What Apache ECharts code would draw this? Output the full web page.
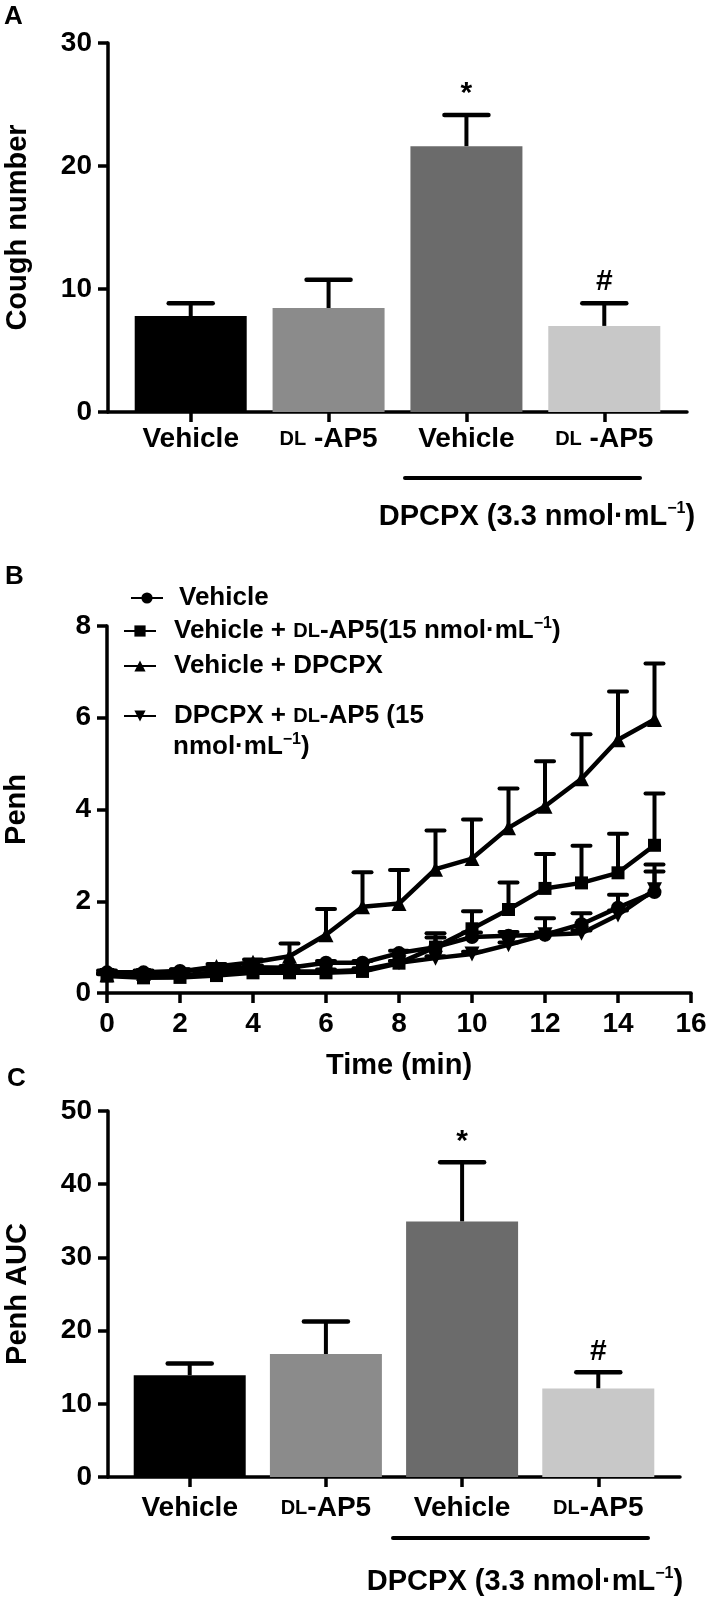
<!DOCTYPE html>
<html>
<head>
<meta charset="utf-8">
<script src="https://cdn.jsdelivr.net/npm/echarts@6/dist/echarts.min.js"></script>
<style>
  html, body { margin: 0; padding: 0; background: #fff; }
  #chart { width: 709px; height: 1599px; }
</style>
</head>
<body>
<div id="chart"></div>
<script>
// panel A / C categories
const catsA = ["Vehicle", "DL -AP5", "Vehicle", "DL -AP5"];
const catsC = ["Vehicle", "DL-AP5", "Vehicle", "DL-AP5"];
const groupLabel = "DPCPX (3.3 nmol·mL−1)";

// A: cough number
const coughMean = [7.8, 8.45, 21.6, 7.0];
const coughSem = [1.05, 2.3, 2.55, 1.85];
const coughMarks = ["", "", "*", "#"];

// C: Penh AUC
const aucMean = [13.9, 16.8, 34.9, 12.1];
const aucSem = [1.6, 4.45, 8.1, 2.2];
const aucMarks = ["", "", "*", "#"];

// B: Penh over time
const timeMin = [0, 1, 2, 3, 4, 5, 6, 7, 8, 9, 10, 11, 12, 13, 14, 15];
const vehMean = [0.45, 0.45, 0.48, 0.53, 0.56, 0.55, 0.66, 0.66, 0.87, 1.0, 1.22, 1.25, 1.27, 1.5, 1.86, 2.2];
const vehSem = [0.04, 0.04, 0.04, 0.04, 0.04, 0.04, 0.04, 0.04, 0.05, 0.21, 0.1, 0.08, 0.36, 0.24, 0.28, 0.45];
const apMean = [0.37, 0.33, 0.34, 0.38, 0.44, 0.44, 0.44, 0.47, 0.65, 1.0, 1.4, 1.82, 2.28, 2.4, 2.62, 3.22];
const apSem = [0.04, 0.04, 0.04, 0.04, 0.04, 0.04, 0.04, 0.04, 0.05, 0.3, 0.38, 0.59, 0.75, 0.81, 0.85, 1.13];
const dpMean = [0.4, 0.43, 0.47, 0.58, 0.67, 0.8, 1.27, 1.88, 1.95, 2.7, 2.93, 3.6, 4.07, 4.67, 5.52, 5.96];
const dpSem = [0.04, 0.04, 0.04, 0.05, 0.06, 0.28, 0.56, 0.75, 0.73, 0.84, 0.85, 0.86, 0.98, 0.97, 1.05, 1.22];
const dpApMean = [0.38, 0.38, 0.38, 0.45, 0.5, 0.47, 0.47, 0.5, 0.66, 0.76, 0.85, 1.05, 1.27, 1.3, 1.7, 2.25];
const dpApSem = [0.04, 0.04, 0.04, 0.04, 0.04, 0.04, 0.04, 0.04, 0.04, 0.04, 0.05, 0.05, 0.05, 0.06, 0.1, 0.55];
const seriesNames = ["Vehicle", "Vehicle + DL-AP5", "Vehicle + DPCPX", "DPCPX + DL-AP5"];
const legendTexts = ["Vehicle", "Vehicle + DL-AP5(15 nmol·mL−1)", "Vehicle + DPCPX", "DPCPX + DL-AP5 (15"];

const FONT = '"Liberation Sans", Arial, Helvetica, sans-serif';
const barColors = ["#000000", "#8b8b8b", "#6b6b6b", "#c8c8c8"];

const rich = {
  sc: {fontFamily: FONT, fontWeight: "bold", fontSize: 20, color: "#000"},
  sup: {fontFamily: FONT, fontWeight: "bold", fontSize: 16, color: "#000", verticalAlign: "top", lineHeight: 14},
};
// DL in small caps, -1 raised
function fmt(s) {
  return s.replace("DL", "{sc|DL}").replace("−1", "{sup|−1}");
}

const bold = size => ({fontFamily: FONT, fontWeight: "bold", fontSize: size, color: "#000"});
const axisLine = {show: true, onZero: false, lineStyle: {color: "#000", width: 3.5}};
const axisTick = {show: true, length: 10, lineStyle: {color: "#000", width: 3.5}};

function catAxis(gridIndex, labels, margin) {
  return {
    type: "value", gridIndex, min: -0.6, max: 3.6,
    axisLine, splitLine: {show: false},
    axisTick: Object.assign({customValues: [0, 1, 2, 3]}, axisTick),
    axisLabel: Object.assign({
      customValues: [0, 1, 2, 3], margin, rich,
      formatter: v => fmt(labels[Math.round(v)] || ""),
    }, bold(28)),
  };
}
function valAxis(gridIndex, max, interval, name) {
  return {
    type: "value", gridIndex, min: 0, max, interval,
    name, nameLocation: "middle", nameGap: 76, nameRotate: 90,
    nameTextStyle: bold(29),
    axisLine, axisTick, splitLine: {show: false},
    axisLabel: Object.assign({margin: 16}, bold(28)),
  };
}

function barSeries(axisIdx, means) {
  return {
    type: "bar", xAxisIndex: axisIdx, yAxisIndex: axisIdx, barWidth: 112, z: 2,
    data: means.map((m, i) => ({value: [i, m], itemStyle: {color: barColors[i]}})),
  };
}
function barErrSeries(axisIdx, means, sems, marks) {
  return {
    type: "custom", xAxisIndex: axisIdx, yAxisIndex: axisIdx, z: 1,
    data: means.map((m, i) => [i, m, sems[i]]),
    renderItem: (params, api) => {
      const x = api.value(0), m = api.value(1), e = api.value(2);
      const p0 = api.coord([x, m]);
      const p1 = api.coord([x, m + e]);
      const mark = marks[params.dataIndex];
      return {
        type: "group",
        children: [
          {type: "line", shape: {x1: p0[0], y1: p0[1], x2: p1[0], y2: p1[1]}, style: {stroke: "#000", lineWidth: 4}},
          {type: "line", shape: {x1: p1[0] - 22, y1: p1[1], x2: p1[0] + 22, y2: p1[1]}, style: {stroke: "#000", lineWidth: 4.5, lineCap: "round"}},
          {type: "text", x: p1[0], y: p1[1] - 21, style: {text: mark, align: "center", verticalAlign: "middle", font: "bold 30px " + FONT, fill: "#000"}},
        ],
      };
    },
  };
}

const penh = [
  {mean: vehMean, sem: vehSem, symbol: "circle", size: 14},
  {mean: apMean, sem: apSem, symbol: "rect", size: 13},
  {mean: dpMean, sem: dpSem, symbol: "triangle", size: 15},
  {mean: dpApMean, sem: dpApSem, symbol: "path://M0,0L2,0L1,1.7Z", size: 15},
];
const lineSeries = penh.map((s, k) => ({
  type: "line", name: seriesNames[k], xAxisIndex: 1, yAxisIndex: 1, z: 3,
  symbol: s.symbol, symbolSize: s.size, showAllSymbol: true,
  lineStyle: {color: "#000", width: 4.5}, itemStyle: {color: "#000"},
  data: timeMin.map((t, i) => [t, s.mean[i]]),
}));
const penhErr = [];
penh.forEach(s => s.mean.forEach((m, i) => penhErr.push([timeMin[i], m, s.sem[i]])));

const legendRows = [
  {left: 130, top: 583, pad: 11},
  {left: 123, top: 616, pad: 13},
  {left: 123, top: 651, pad: 13},
  {left: 123, top: 701, pad: 13},
];

const chart = echarts.init(document.getElementById("chart"));
chart.setOption({
  animation: false,
  backgroundColor: "#fff",
  grid: [
    {left: 108, top: 43, width: 579, height: 369, outerBoundsMode: "none"},
    {left: 107, top: 626, width: 584, height: 367, outerBoundsMode: "none"},
    {left: 108, top: 1111, width: 572, height: 366, outerBoundsMode: "none"},
  ],
  xAxis: [
    catAxis(0, catsA, 13),
    {
      type: "value", gridIndex: 1, min: 0, max: 16, interval: 2,
      name: "Time (min)", nameLocation: "middle", nameGap: 58, nameTextStyle: bold(29),
      axisLine, axisTick, splitLine: {show: false},
      axisLabel: Object.assign({margin: 17}, bold(28)),
    },
    catAxis(2, catsC, 17),
  ],
  yAxis: [
    valAxis(0, 30, 10, "Cough number"),
    valAxis(1, 8, 2, "Penh"),
    valAxis(2, 50, 10, "Penh AUC"),
  ],
  legend: legendRows.map((r, k) => ({
    data: [seriesNames[k]], orient: "vertical", left: r.left, top: r.top, padding: 0,
    itemWidth: 32, itemHeight: 14,
    formatter: () => fmt(legendTexts[k]),
    textStyle: Object.assign({rich, lineHeight: 30, padding: [0, 0, 0, r.pad]}, bold(26)),
  })),
  graphic: [
    {type: "text", left: 4, top: 4, style: {text: "A", font: "bold 26px " + FONT, fill: "#000"}},
    {type: "text", left: 5, top: 564, style: {text: "B", font: "bold 26px " + FONT, fill: "#000"}},
    {type: "text", left: 7, top: 1066, style: {text: "C", font: "bold 26px " + FONT, fill: "#000"}},
    {type: "line", shape: {x1: 405, y1: 478, x2: 640, y2: 478}, style: {stroke: "#000", lineWidth: 4, lineCap: "round"}},
    {type: "text", x: 537, y: 517, style: {text: fmt(groupLabel), rich, align: "center", verticalAlign: "middle", font: "bold 29px " + FONT, fill: "#000", lineHeight: 32}},
    {type: "text", x: 173, y: 747, style: {text: fmt("nmol·mL−1)"), rich, align: "left", verticalAlign: "middle", font: "bold 26px " + FONT, fill: "#000", lineHeight: 30}},
    {type: "line", shape: {x1: 393, y1: 1538, x2: 648, y2: 1538}, style: {stroke: "#000", lineWidth: 4, lineCap: "round"}},
    {type: "text", x: 525, y: 1582, style: {text: fmt(groupLabel), rich, align: "center", verticalAlign: "middle", font: "bold 29px " + FONT, fill: "#000", lineHeight: 32}},
  ],
  series: [
    barSeries(0, coughMean),
    barErrSeries(0, coughMean, coughSem, coughMarks),
    ...lineSeries,
    {
      type: "custom", xAxisIndex: 1, yAxisIndex: 1, z: 2,
      data: penhErr,
      renderItem: (params, api) => {
        const p0 = api.coord([api.value(0), api.value(1)]);
        const p1 = api.coord([api.value(0), api.value(1) + api.value(2)]);
        return {
          type: "group",
          children: [
            {type: "line", shape: {x1: p0[0], y1: p0[1], x2: p1[0], y2: p1[1]}, style: {stroke: "#000", lineWidth: 4}},
            {type: "line", shape: {x1: p1[0] - 9, y1: p1[1], x2: p1[0] + 9, y2: p1[1]}, style: {stroke: "#000", lineWidth: 4, lineCap: "round"}},
          ],
        };
      },
    },
    barSeries(2, aucMean),
    barErrSeries(2, aucMean, aucSem, aucMarks),
  ],
});
</script>
</body>
</html>
